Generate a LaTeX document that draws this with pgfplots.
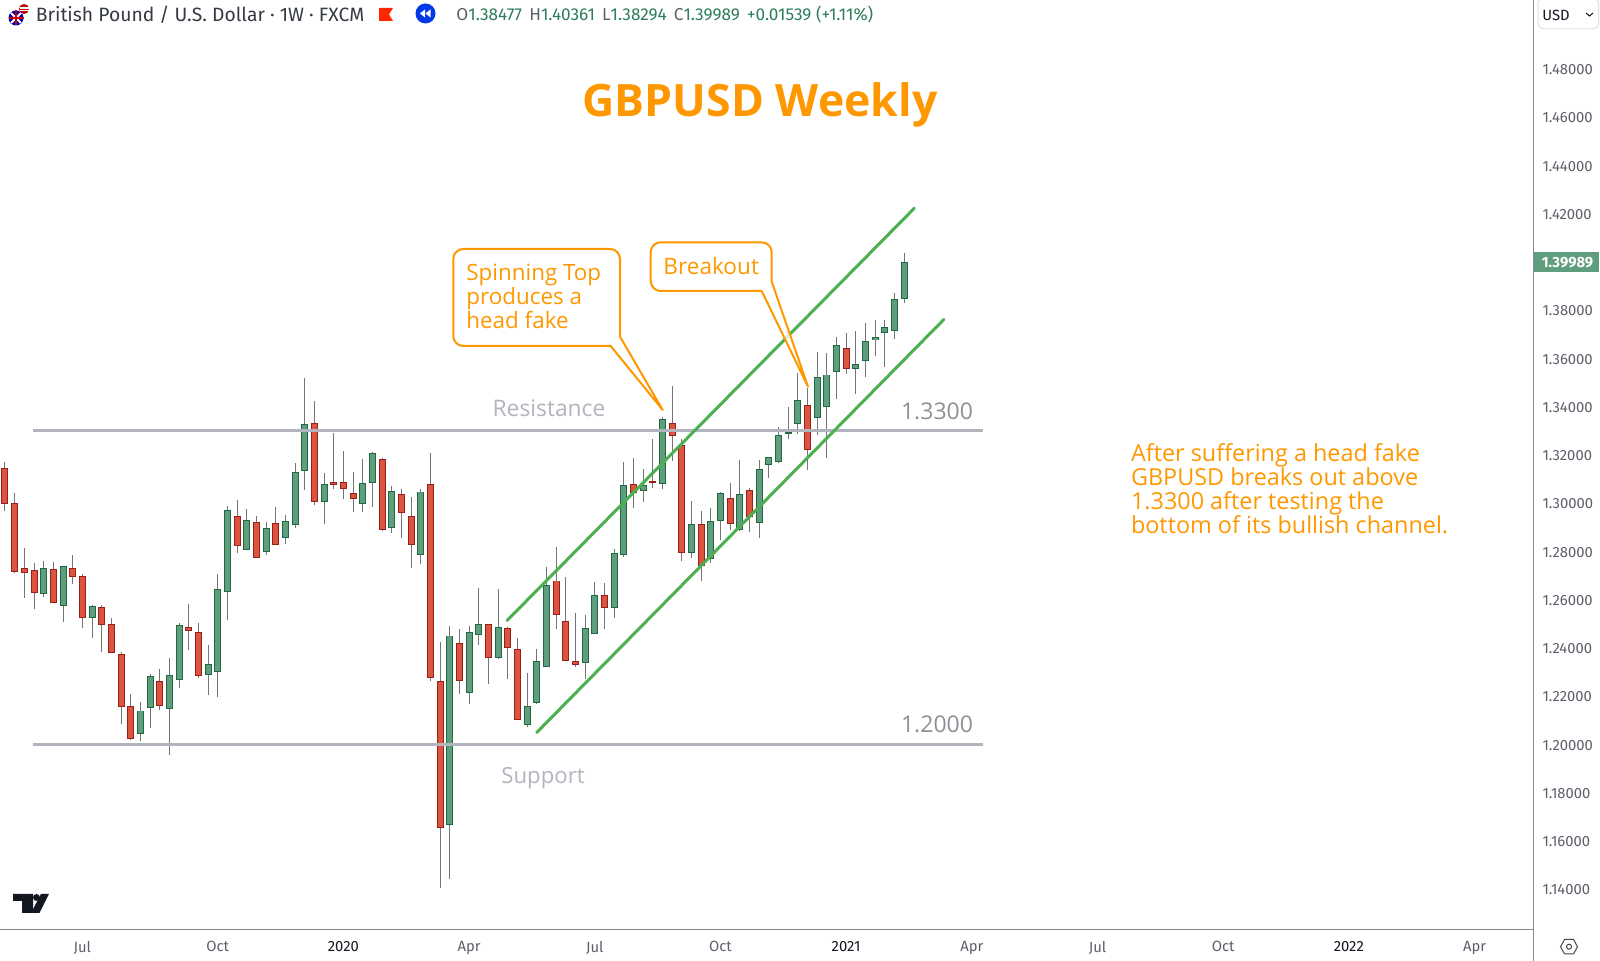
\documentclass[border=0pt]{standalone}
\usepackage{fontspec}
\setmainfont{Fira Sans}
\newfontfamily\notefont{Open Sans}
\usepackage{pgfplots}
\usepackage{pgfplotstable}
\pgfplotsset{compat=1.18}
\setlength\lineskiplimit{-20pt}

\definecolor{upfill}{HTML}{5F9E7C}
\definecolor{upedge}{HTML}{20683F}
\definecolor{downfill}{HTML}{DC5340}
\definecolor{downedge}{HTML}{96201A}
\definecolor{wickc}{HTML}{757575}
\definecolor{levelc}{HTML}{B2B5BE}
\definecolor{channelc}{HTML}{4CAF50}
\definecolor{notec}{HTML}{FF9800}
\definecolor{axisc}{HTML}{868993}
\definecolor{ticktxt}{HTML}{5D606B}
\definecolor{darktxt}{HTML}{131722}
\definecolor{valtxt}{HTML}{2E7D5B}

% weekly candles: i open high low close (index 0 is the leftmost bar)
\pgfplotstableread{
i o h l c
0 1.3147 1.3169 1.2969 1.2998
1 1.2999 1.3041 1.2712 1.2713
2 1.2732 1.2813 1.2608 1.2709
3 1.2724 1.2750 1.2560 1.2629
5 1.2728 1.2757 1.2585 1.2587
7 1.2732 1.2785 1.2663 1.2692
8 1.2697 1.2705 1.2484 1.2522
10 1.2568 1.2578 1.2384 1.2496
11 1.2498 1.2524 1.2377 1.2377
12 1.2373 1.2381 1.2083 1.2155
13 1.2159 1.2209 1.2019 1.2021
16 1.2261 1.2312 1.2142 1.2159
19 1.2485 1.2582 1.2392 1.2468
20 1.2466 1.2503 1.2274 1.2282
24 1.2947 1.3013 1.2791 1.2821
26 1.2923 1.2945 1.2771 1.2771
28 1.2919 1.2984 1.2826 1.2828
32 1.3332 1.3422 1.2990 1.3003
34 1.3088 1.3292 1.3058 1.3075
35 1.3088 1.3217 1.3019 1.3060
36 1.3041 1.3127 1.2961 1.3016
39 1.3184 1.3188 1.2886 1.2888
41 1.3036 1.3060 1.2854 1.2960
42 1.2948 1.3027 1.2731 1.2828
44 1.3079 1.3206 1.2261 1.2275
45 1.2262 1.2426 1.1404 1.1655
47 1.2421 1.2476 1.2207 1.2263
50 1.2500 1.2500 1.2249 1.2359
52 1.2483 1.2486 1.2271 1.2399
53 1.2396 1.2442 1.2099 1.2099
57 1.2679 1.2819 1.2478 1.2535
58 1.2513 1.2693 1.2344 1.2344
59 1.2344 1.2545 1.2320 1.2328
62 1.2617 1.2669 1.2480 1.2564
65 1.3078 1.3186 1.2981 1.3043
67 1.3090 1.3266 1.3061 1.3086
69 1.3334 1.3486 1.3176 1.3277
70 1.3241 1.3265 1.2761 1.2792
72 1.2912 1.2967 1.2676 1.2741
75 1.3023 1.3082 1.2889 1.2915
77 1.3054 1.3061 1.2882 1.2944
83 1.3408 1.3477 1.3137 1.3219
87 1.3643 1.3705 1.3537 1.3556
}\downbars

\pgfplotstableread{
i o h l c
4 1.2625 1.2760 1.2612 1.2732
6 1.2572 1.2741 1.2509 1.2741
9 1.2525 1.2576 1.2439 1.2572
14 1.2044 1.2176 1.2015 1.2140
15 1.2151 1.2292 1.2066 1.2282
17 1.2148 1.2357 1.1957 1.2286
18 1.2265 1.2502 1.2234 1.2493
21 1.2289 1.2412 1.2206 1.2332
22 1.2299 1.2705 1.2198 1.2644
23 1.2633 1.2988 1.2517 1.2970
25 1.2807 1.2976 1.2807 1.2931
27 1.2796 1.2920 1.2786 1.2896
29 1.2855 1.2952 1.2831 1.2927
30 1.2908 1.3168 1.2898 1.3130
31 1.3135 1.3517 1.3054 1.3329
33 1.3005 1.3126 1.2912 1.3079
37 1.2995 1.3181 1.2965 1.3084
38 1.3084 1.3213 1.2982 1.3209
40 1.2896 1.3072 1.2878 1.3051
43 1.2783 1.3058 1.2747 1.3048
46 1.1666 1.2489 1.1443 1.2451
48 1.2211 1.2489 1.2165 1.2466
49 1.2452 1.2650 1.2410 1.2500
51 1.2358 1.2645 1.2356 1.2488
54 1.2079 1.2297 1.2073 1.2159
55 1.2170 1.2397 1.2169 1.2344
56 1.2320 1.2734 1.2320 1.2662
60 1.2337 1.2534 1.2271 1.2483
61 1.2459 1.2672 1.2459 1.2617
63 1.2566 1.2809 1.2523 1.2792
64 1.2786 1.3171 1.2778 1.3074
66 1.3050 1.3143 1.3006 1.3077
68 1.3078 1.3358 1.3057 1.3349
71 1.2792 1.3007 1.2771 1.2912
73 1.2767 1.2978 1.2750 1.2927
74 1.2927 1.3046 1.2846 1.3043
76 1.2887 1.3179 1.2886 1.3039
78 1.2919 1.3179 1.2854 1.3143
79 1.3157 1.3190 1.3106 1.3190
80 1.3172 1.3314 1.3171 1.3281
81 1.3289 1.3399 1.3265 1.3294
82 1.3329 1.3538 1.3288 1.3429
84 1.3352 1.3625 1.3284 1.3522
85 1.3397 1.3621 1.3187 1.3533
86 1.3545 1.3689 1.3432 1.3654
88 1.3556 1.3714 1.3451 1.3575
89 1.3588 1.3748 1.3523 1.3671
90 1.3675 1.3761 1.3611 1.3687
91 1.3704 1.3761 1.3566 1.3728
92 1.3712 1.3870 1.3682 1.3846
93 1.38477 1.40361 1.38294 1.39989
}\upbars

% #1 table, #2 body fill, #3 body edge
\newcommand\candles[3]{
  \addplot[draw=none, mark=none, error bars/.cd, y dir=both, y explicit, error mark=none,
    error bar style={draw=wickc, line width=0.5pt}]
    table[x=i, y expr=\thisrow{o}, y error plus expr=\thisrow{h}-\thisrow{o}, y error minus expr=\thisrow{o}-\thisrow{l}] {#1};
  \addplot[draw=none, mark=none, error bars/.cd, y dir=both, y explicit, error mark=none,
    error bar style={draw=#3, line width=3.5pt}]
    table[x=i, y expr=(\thisrow{o}+\thisrow{c})/2, y error plus expr=abs(\thisrow{c}-\thisrow{o})/2, y error minus expr=abs(\thisrow{c}-\thisrow{o})/2] {#1};
  \addplot[draw=none, mark=none, error bars/.cd, y dir=both, y explicit, error mark=none,
    error bar style={draw=#2, line width=2.5pt}]
    table[x=i, y expr=(\thisrow{o}+\thisrow{c})/2, y error plus expr={max(abs(\thisrow{c}-\thisrow{o})/2-0.0004,0)}, y error minus expr={max(abs(\thisrow{c}-\thisrow{o})/2-0.0004,0)}] {#1};
}

\begin{document}
\begin{tikzpicture}
\fill[white] (0,0) rectangle (800pt,480.5pt);
\path[use as bounding box] (0,0) rectangle (800pt,480.5pt);
\begin{axis}[
  at={(0pt,15.75pt)}, anchor=south west,
  scale only axis, width=766.75pt, height=464.75pt,
  xmin=-0.517, xmax=158.1,
  ymin=1.12322, ymax=1.50858,
  axis x line*=bottom, axis y line*=right,
  axis line style={draw=axisc, line width=0.55pt, -},
  major tick length=0pt,
  xtick={8,22,35,48,61,74,87,100,113,126,139,152},
  xticklabels={Jul,Oct,\textcolor{darktxt}{2020},Apr,Jul,Oct,\textcolor{darktxt}{2021},Apr,Jul,Oct,\textcolor{darktxt}{2022},Apr},
  x tick label style={font=\fontsize{7.4pt}{8pt}\selectfont, text=ticktxt, yshift=-2.4pt},
  ytick={1.14,1.16,1.18,1.20,1.22,1.24,1.26,1.28,1.30,1.32,1.34,1.36,1.38,1.42,1.44,1.46,1.48},
  scaled y ticks=false,
  y tick label style={font=\fontsize{7.4pt}{8pt}\selectfont, text=ticktxt, anchor=west, xshift=1pt, yshift=-0.4pt,
    /pgf/number format/fixed, /pgf/number format/fixed zerofill, /pgf/number format/precision=5,
    /pgf/number format/assume math mode=true},
]
\candles{\downbars}{downfill}{downedge}
\candles{\upbars}{upfill}{upedge}

% horizontal levels
\addplot[levelc, line width=1.5pt] coordinates {(2.87,1.33) (101.2,1.33)};
\addplot[levelc, line width=1.5pt] coordinates {(2.87,1.20) (101.2,1.20)};
% bullish channel
\addplot[channelc, line width=1.5pt, line cap=round] coordinates {(51.93,1.2513) (94.06,1.42226)};
\addplot[channelc, line width=1.5pt, line cap=round] coordinates {(55.0,1.2049) (97.12,1.37616)};
\end{axis}

% everything below is in reference pixels, origin top left
\begin{scope}[shift={(0pt,480.5pt)}, x=0.5pt, y=-0.5pt]
  \draw[axisc, line width=0.55pt] (1533.5,929) -- (1533.5,961);

  % header
  \fill[red!75!black] (24,9) circle (5);
  \fill[white] (20,9) rectangle (29,7);
  \fill[white] (20,11) rectangle (29,10);
  \fill[blue!70!black] (16,18) circle (7.5);
  \draw[white, line width=1pt] (11,13) -- (21,23) (11,23) -- (21,13);
  \draw[white, line width=1.2pt] (16,10.5) -- (16,25.5) (8.5,18) -- (23.5,18);
  \draw[red!80!black, line width=0.6pt] (16,10.5) -- (16,25.5) (8.5,18) -- (23.5,18);
  \node[anchor=west, inner sep=0, text=darktxt!85!white, font=\fontsize{9.65pt}{10pt}\selectfont] at (35.5,14.5)
    {British Pound / U.S. Dollar · 1W · FXCM};
  \fill[red!70!orange] (379,8) -- (393,8) -- (389,14.5) -- (393,21) -- (379,21) -- cycle;
  \fill[blue!75!cyan!90!black] (425.5,13.5) circle (10);
  \fill[white] (420,13.5) -- (425,9.5) -- (425,17.5) -- cycle;
  \fill[white] (425.5,13.5) -- (430.5,9.5) -- (430.5,17.5) -- cycle;
  \node[anchor=west, inner sep=0, text=ticktxt, font=\fontsize{8.6pt}{9pt}\selectfont] at (456,14.5)
    {O\textcolor{valtxt}{1.38477}\hspace{3.6pt}H\textcolor{valtxt}{1.40361}\hspace{3.6pt}L\textcolor{valtxt}{1.38294}\hspace{3.6pt}C\textcolor{valtxt}{1.39989}\hspace{3.6pt}\textcolor{valtxt}{+0.01539 (+1.11\%)}};

  % currency selector and last price tag
  \draw[black!12, line width=0.5pt, rounded corners=3pt] (1538,-2) rectangle (1598.5,29);
  \node[anchor=west, inner sep=0, text=darktxt, font=\fontsize{7.4pt}{8pt}\selectfont] at (1542,15) {USD};
  \draw[darktxt, line width=0.5pt] (1586,13) -- (1589.5,16) -- (1593,13);
  \fill[upfill] (1534,252) rectangle (1599,272.5);
  \node[inner sep=0, text=white, font=\fontsize{7.4pt}{8pt}\selectfont\bfseries] at (1567.5,262.5) {1.39989};

  % settings icon
  \draw[darktxt!80!white, line width=0.5pt] (1560.5,946.7) -- (1564.5,939.5) -- (1573.5,939.5) -- (1577.5,946.7) -- (1573.5,954) -- (1564.5,954) -- cycle;
  \draw[darktxt!80!white, line width=0.5pt] (1569,946.7) circle (2.5);

  % logo
  \fill[darktxt] (13,894) -- (33,894) -- (33,913) -- (22,913) -- (22,901) -- (13,901) -- cycle;
  \fill[darktxt] (36.5,897.5) circle (3.5);
  \fill[darktxt] (41,894) -- (49,894) -- (39.5,913) -- (31,913) -- cycle;

  % notes
  \node[inner sep=0, text=notec, font=\fontsize{22.3pt}{26pt}\selectfont\notefont\bfseries] at (760,105) {GBPUSD Weekly};

  \begin{scope}[notec, line width=1pt, line join=round, fill=white, fill opacity=0.8]
    \filldraw (463.3,249) -- (610,249) .. controls (615.5,249) and (620,253.5) .. (620,259)
      -- (620,336.7) -- (662.7,410) -- (610.7,346) -- (463.3,346)
      .. controls (457.8,346) and (453.3,341.5) .. (453.3,336) -- (453.3,259)
      .. controls (453.3,253.5) and (457.8,249) .. (463.3,249) -- cycle;
    \filldraw (660.7,242.3) -- (761.7,242.3) .. controls (767.2,242.3) and (771.7,246.8) .. (771.7,252.3)
      -- (771.7,281.7) -- (808,386.7) -- (761.7,291) -- (660.7,291)
      .. controls (655.2,291) and (650.7,286.5) .. (650.7,281) -- (650.7,252.3)
      .. controls (650.7,246.8) and (655.2,242.3) .. (660.7,242.3) -- cycle;
  \end{scope}
  \node[anchor=north west, align=left, inner sep=0, text=notec, font=\fontsize{11.2pt}{12pt}\selectfont\notefont] at (466,264)
    {Spinning Top\\produces a\\head fake};
  \node[anchor=west, inner sep=0, text=notec, font=\fontsize{11.3pt}{12pt}\selectfont\notefont] at (663,266)
    {Breakout};
  \node[anchor=north west, align=left, inner sep=0, text=notec, font=\fontsize{11.7pt}{12pt}\selectfont\notefont] at (1130.6,443)
    {After suffering a head fake\\GBPUSD breaks out above\\1.3300 after testing the\\bottom of its bullish channel.};

  % level labels
  \node[inner sep=0, text=levelc, font=\fontsize{11.4pt}{14pt}\selectfont\notefont] at (549,408) {Resistance};
  \node[inner sep=0, text=levelc, font=\fontsize{11.1pt}{14pt}\selectfont\notefont] at (543,778) {Support};
  \node[inner sep=0, text=ticktxt!70!white, font=\fontsize{11.5pt}{14pt}\selectfont\notefont] at (937,411) {1.3300};
  \node[inner sep=0, text=ticktxt!70!white, font=\fontsize{11.5pt}{14pt}\selectfont\notefont] at (937,724.5) {1.2000};
\end{scope}
\end{tikzpicture}
\end{document}
